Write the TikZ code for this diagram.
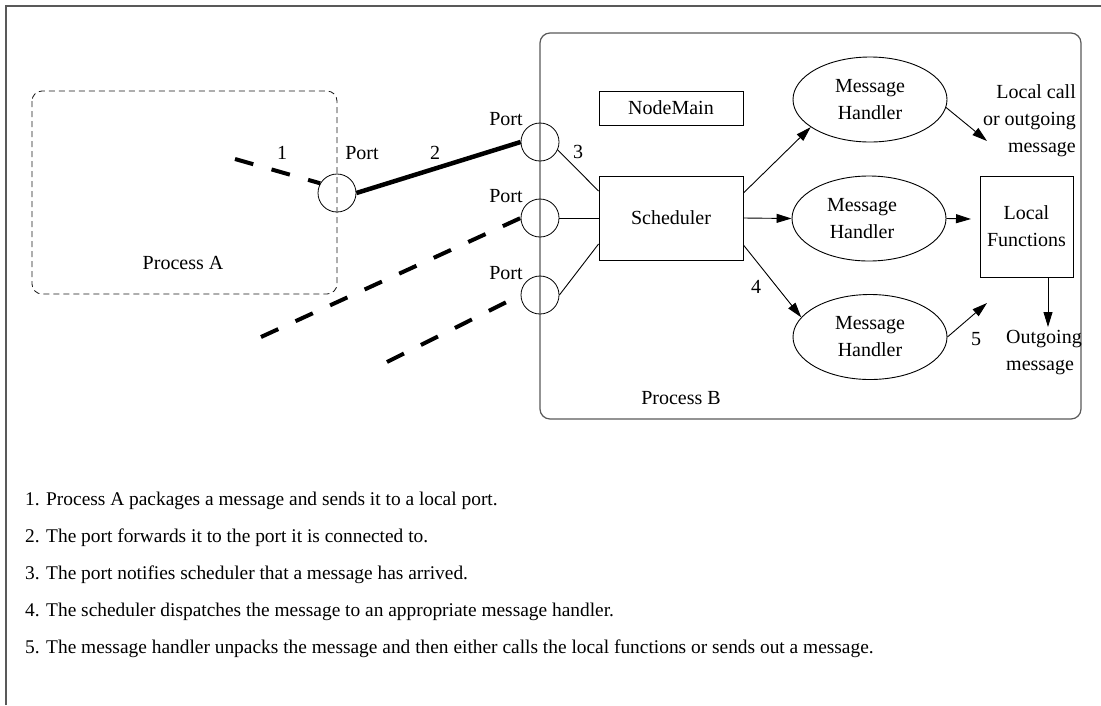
\documentclass[tikz,border=0pt]{standalone}
\usepackage{fontspec}
\setmainfont{Liberation Serif}
\usetikzlibrary{arrows.meta,shapes.geometric}

\begin{document}
\begin{tikzpicture}[x=1pt,y=-1pt,
  font=\fontsize{20}{27}\selectfont,
  every node/.style={inner sep=0pt},
  frameline/.style={draw=black!65, line width=1.3pt},
  container/.style={draw=black!65, line width=1.2pt, rounded corners=10pt},
  localproc/.style={draw=black!90, line width=0.8pt, dash pattern=on 6pt off 4pt, rounded corners=10pt},
  box/.style={draw, line width=0.9pt, align=center},
  handler/.style={draw, ellipse, line width=0.9pt, minimum width=154pt, minimum height=85pt, align=center},
  portc/.style={draw, circle, line width=0.8pt, minimum size=38pt},
  link/.style={line width=0.9pt},
  flow/.style={line width=0.9pt, -{Triangle[length=15pt,width=9pt]}},
  wire/.style={line width=4pt, dash pattern=on 19pt off 19pt},
  channel/.style={line width=4.5pt},
  note/.style={anchor=base west, font=\fontsize{19.4}{24}\selectfont}]

\useasboundingbox (0,0) rectangle (1101,705);

% outer frame (top and left edges only)
\draw[frameline] (6,705) -- (6,6) -- (1101,6);

% processes
\draw[localproc] (32,91) rectangle (337,294);
\node (lblA) at (183,263) {Process A};
\draw[container] (540,33) rectangle (1081,419);
\node (lblB) at (681,398) {Process B};

% ports
\node[portc] (portA) at (337,193) {};
\node[portc] (port1) at (540,142) {};
\node[portc] (port2) at (540,218) {};
\node[portc] (port3) at (540,295) {};
\node (pA) at (362,153) {Port};
\node (p1) at (506,119) {Port};
\node (p2) at (506,196) {Port};
\node (p3) at (506,273) {Port};

% components inside process B
\node[box, minimum width=144pt, minimum height=34pt] (main) at (671,108) {NodeMain};
\node[box, minimum width=144pt, minimum height=84pt] (sched) at (671,218) {Scheduler};
\node[handler] (mh1) at (870,99.5) {Message\\Handler};
\node[handler, label={[xshift=-7pt, align=center]center:Message\\Handler}] (mh2) at (869,218.5) {};
\node[handler] (mh3) at (870,337) {Message\\Handler};
\node[box, minimum width=93pt, minimum height=101pt] (lf) at (1026.5,226.5) {Local\\Functions};

\node[anchor=east, align=right] (callout) at (1076,121) {Local call\\or outgoing\\message};
\node[anchor=west, align=left] (outmsg) at (1006,353) {Outgoing\\message};

% step numbers
\node (n1) at (282,153) {1};
\node (n2) at (435,153) {2};
\node (n3) at (578,152) {3};
\node (n4) at (756,287) {4};
\node (n5) at (976,339) {5};

% free ends
\coordinate (srcA) at (235,159);
\coordinate (src2) at (261,337);
\coordinate (src3) at (387,362);
\coordinate (end1) at (987,141);
\coordinate (end2) at (971,219);
\coordinate (end3) at (987,303);
\coordinate (end4) at (1048,327);

% message paths between processes
\draw[wire] (srcA) -- (portA.150);
\draw[channel] (portA.east) -- (port1.west);
\draw[wire] (src2) -- (port2.west);
\draw[wire] (src3) -- (port3.west);

% ports to scheduler
\draw[link] (port1.-24) -- ([yshift=27pt]sched.west);
\draw[link] (port2.east) -- (sched.west);
\draw[link] (port3.east) -- ([yshift=-26pt]sched.west);

% dispatch to handlers
\draw[flow] ([yshift=25pt]sched.east) -- (mh1.205);
\draw[flow] (sched.east) -- (mh2.west);
\draw[flow] ([yshift=-27pt]sched.east) -- (mh3.164);

% handler results
\draw[flow] (mh1.-6) -- (end1);
\draw[flow] (mh2.east) -- (end2);
\draw[flow] (mh3.east) -- (end3);
\draw[flow] ([xshift=21.5pt]lf.south) -- (end4);

% explanation
\node[note] (s1) at (25,505) {1. Process A packages a message and sends it to a local port.};
\node[note] (s2) at (25,542) {2. The port forwards it to the port it is connected to.};
\node[note] (s3) at (25,579) {3. The port notifies scheduler that a message has arrived.};
\node[note] (s4) at (25,616) {4. The scheduler dispatches the message to an appropriate message handler.};
\node[note] (s5) at (25,653) {5. The message handler unpacks the message and then either calls the local functions or sends out a message.};
\end{tikzpicture}
\end{document}
